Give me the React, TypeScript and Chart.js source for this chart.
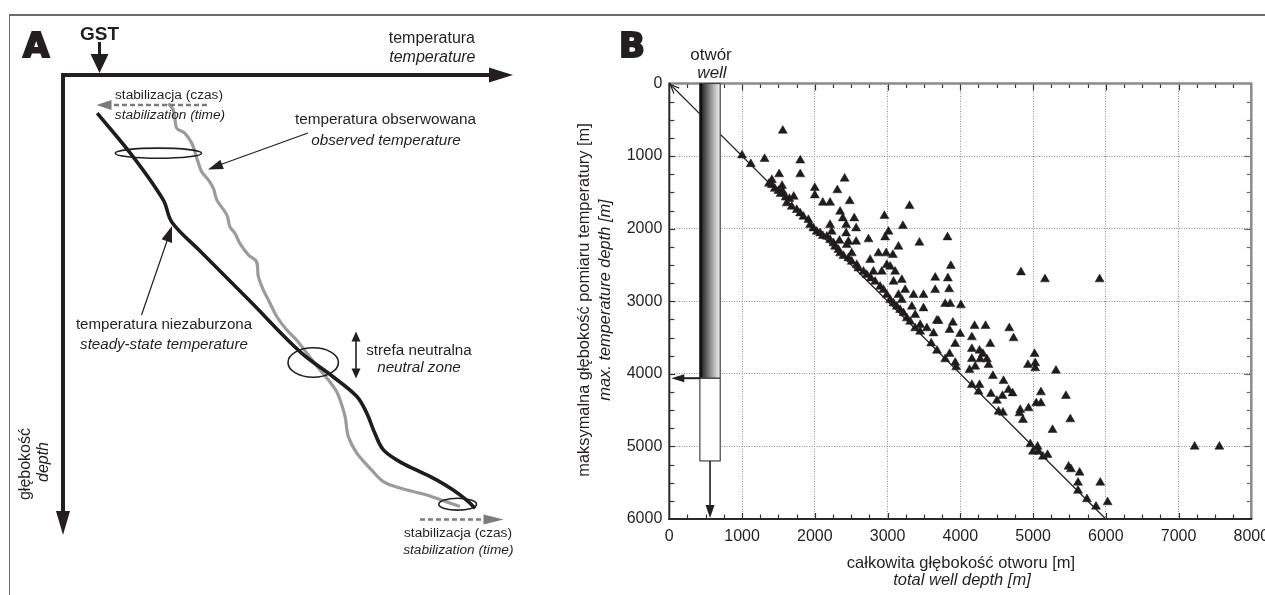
import React, { useEffect, useRef } from 'react';
import { Chart, registerables } from 'chart.js';
Chart.register(...registerables);

// ---------- Panel A (schematic) data: temperature / depth in arbitrary units 0..100 ----------
const steadyT = [7.6, 15.6, 22.3, 24.2, 30.4, 41.6, 52.7, 60.0, 65.3, 67.5, 69.3, 71.2, 74.9, 78.6, 83.0, 86.7, 89.7, 91.6];
const steadyD = [8.3, 17.8, 27.2, 32.0, 38.2, 49.2, 60.2, 65.6, 69.9, 73.5, 77.9, 81.5, 84.1, 85.9, 88.0, 90.2, 92.4, 94.2];
const observedT = [23.4, 24.5, 24.9, 25.3, 27.1, 28.6, 29.3, 30.1, 30.8, 32.3, 33.4, 34.2, 36.4, 37.1, 38.2, 39.3, 41.2, 43.0, 43.4, 44.5, 46.0, 47.5, 49.7, 51.9, 54.2, 57.1, 59.3, 60.8, 61.6, 62.7, 63.4, 65.3, 68.6, 71.2, 74.9, 80.8, 85.3, 88.2];
const observedD = [6.2, 7.6, 9.8, 11.6, 12.7, 14.8, 16.7, 19.2, 21.0, 22.8, 24.6, 27.2, 30.4, 33.0, 34.4, 36.6, 39.1, 40.6, 43.8, 46.7, 49.6, 52.5, 55.4, 57.6, 60.5, 64.1, 66.7, 68.8, 70.7, 74.3, 78.6, 82.2, 85.9, 88.4, 89.8, 91.3, 92.8, 93.8];
// ellipses: centre T, centre D, radius T, radius D
const ellipseT = [21.2, 55.6, 87.7];
const ellipseD = [17.0, 62.5, 93.3];
const ellipseRT = [9.6, 5.6, 4.2];
const ellipseRD = [1.1, 3.2, 1.3];

// ---------- Panel B (scatter) data ----------
const totalDepth = [
  1560, 1000, 1120, 1310, 1800, 1800, 1510, 1410, 1410, 1550, 1560, 1710, 2000, 2000, 2310, 2410, 2480, 2210, 2110,
  1370, 1450, 1500, 1530, 1600, 1650,
  1615, 1683, 1752, 1798, 1843, 1912, 1935, 1981, 2027, 2073, 2110, 2165, 2211, 2257, 2279, 2325, 2348, 2394, 2462, 2508,
  2577, 2600, 2669, 2715, 2770, 2829, 2898, 2944, 2990, 3036, 3082, 3127, 3173, 3219, 3265, 3311, 3379, 3448, 3600, 3680,
  2348, 2385, 2542, 2431, 2568, 2210, 2233, 2431, 2339, 2462, 2439, 2568, 2508, 2738, 2875, 2967, 3013, 2957, 3211, 3302,
  3438, 3150, 2981, 3073, 2761, 2990, 3036, 3104, 2921, 2806, 3082, 3196, 3242, 3150, 3357, 3494, 3196, 3334, 3494, 3380,
  3655, 3655, 3678, 3448, 3540, 3632,
  3824, 3870, 3829, 3847, 4834, 5164, 5915, 3792, 3861, 4008, 3700, 3898, 3852, 3998, 4196, 4347, 4673, 4732, 4159, 3930,
  4411, 3852, 4159, 4264, 4311, 3792, 3930, 4159, 4274, 4366, 4388, 3944, 4205, 4127, 5021, 4930, 5030, 5030, 5315, 4448,
  4594, 4159, 4264, 4251, 4421, 4580, 4663, 4718, 5108, 5452, 4503,
  4824, 4938, 5044, 5108, 4526, 4586, 4814, 4861, 5512, 5268, 4962, 5062, 4999, 5076, 5136, 5199, 5488, 5521, 5640, 5618,
  5618, 5924, 5741, 5865, 6025, 7221, 7561
];
const maxTempDepth = [
  650, 990, 1110, 1040, 1060, 1250, 1250, 1330, 1400, 1410, 1490, 1560, 1440, 1540, 1470, 1310, 1620, 1642, 1642,
  1380, 1450, 1480, 1520, 1570, 1590,
  1650, 1697, 1742, 1788, 1835, 1880, 1949, 1995, 2041, 2064, 2100, 2110, 2156, 2201, 2248, 2293, 2339, 2376, 2408, 2455,
  2500, 2546, 2592, 2638, 2684, 2730, 2799, 2845, 2913, 2982, 3028, 3074, 3120, 3165, 3234, 3281, 3372, 3419, 3580, 3680,
  1766, 1857, 1857, 1949, 1995, 1949, 2041, 2064, 2166, 2179, 2225, 2179, 2339, 2146, 2339, 2119, 2041, 1825, 1963, 1687,
  2193, 2248, 2339, 2362, 2431, 2500, 2523, 2592, 2592, 2592, 2730, 2707, 2845, 2913, 2913, 2913, 2982, 3074, 3097, 3189,
  2675, 2845, 3267, 3326, 3372, 3442,
  2119, 2514, 2684, 2835, 2601, 2697, 2697, 3037, 3037, 3055, 3271, 3295, 3395, 3450, 3340, 3340, 3372, 3510, 3496, 3588,
  3588, 3726, 3657, 3680, 3726, 3799, 3846, 3795, 3799, 3799, 3877, 3909, 3900, 3946, 3726, 3877, 3854, 3923, 3956, 4029,
  4098, 4153, 4153, 4245, 4277, 4304, 4222, 4268, 4254, 4304, 4370,
  4497, 4474, 4405, 4405, 4520, 4534, 4543, 4635, 4626, 4773, 4970, 5003, 5072, 5072, 5140, 5117, 5278, 5314, 5361, 5499,
  5609, 5499, 5727, 5829, 5769, 5003, 5003
];
const diagonalX = [0, 6000];
const diagonalY = [0, 6000];
const xTickValues = [0, 1000, 2000, 3000, 4000, 5000, 6000, 7000, 8000];
const yTickValues = [0, 1000, 2000, 3000, 4000, 5000, 6000];
// schematic well (in data units)
const wellLeft = 420;
const wellRight = 700;
const wellCasingDepth = 4060;
const wellBottomDepth = 5200;
const wellArrowDepth = 6000;

const FONT = '"Liberation Sans", Arial, Helvetica, sans-serif';

function arrowHead(ctx: CanvasRenderingContext2D, tx: number, ty: number, fx: number, fy: number, len: number, half: number, color: string) {
  const a = Math.atan2(ty - fy, tx - fx);
  const bx = tx - Math.cos(a) * len;
  const by = ty - Math.sin(a) * len;
  ctx.save();
  ctx.fillStyle = color;
  ctx.beginPath();
  ctx.moveTo(tx, ty);
  ctx.lineTo(bx + Math.sin(a) * half, by - Math.cos(a) * half);
  ctx.lineTo(bx - Math.sin(a) * half, by + Math.cos(a) * half);
  ctx.closePath();
  ctx.fill();
  ctx.restore();
}

function line(ctx: CanvasRenderingContext2D, x1: number, y1: number, x2: number, y2: number, w: number, color: string, dash: number[] = []) {
  ctx.save();
  ctx.strokeStyle = color;
  ctx.lineWidth = w;
  ctx.setLineDash(dash);
  ctx.beginPath();
  ctx.moveTo(x1, y1);
  ctx.lineTo(x2, y2);
  ctx.stroke();
  ctx.restore();
}

function text(ctx: CanvasRenderingContext2D, s: string, x: number, y: number, font: string, align: CanvasTextAlign = 'center', color = '#231f20') {
  ctx.save();
  ctx.font = font;
  ctx.fillStyle = color;
  ctx.textAlign = align;
  ctx.textBaseline = 'alphabetic';
  ctx.fillText(s, x, y);
  ctx.restore();
}

function rotText(ctx: CanvasRenderingContext2D, s: string, x: number, y: number, font: string, color = '#231f20') {
  ctx.save();
  ctx.translate(x, y);
  ctx.rotate(-Math.PI / 2);
  ctx.font = font;
  ctx.fillStyle = color;
  ctx.textAlign = 'center';
  ctx.textBaseline = 'alphabetic';
  ctx.fillText(s, 0, 0);
  ctx.restore();
}

const panelAPlugin = {
  id: 'panelA',
  beforeDatasetsDraw(chart: any) {
    const ctx: CanvasRenderingContext2D = chart.ctx;
    const { left, top, right, bottom } = chart.chartArea;
    // axes
    ctx.save();
    ctx.strokeStyle = '#231f20';
    ctx.lineWidth = 4;
    ctx.lineCap = 'butt';
    ctx.beginPath();
    ctx.moveTo(left - 2, top);
    ctx.lineTo(right - 18, top);
    ctx.moveTo(left, top - 2);
    ctx.lineTo(left, bottom - 18);
    ctx.stroke();
    ctx.restore();
    arrowHead(ctx, right, top, left, top, 24, 7.5, '#231f20');
    arrowHead(ctx, left, bottom, left, top, 24, 7, '#231f20');
  },
  afterDatasetsDraw(chart: any) {
    const ctx: CanvasRenderingContext2D = chart.ctx;
    const xs = chart.scales.x;
    const ys = chart.scales.y;
    // ellipses
    ctx.save();
    ctx.strokeStyle = '#231f20';
    ctx.lineWidth = 1.6;
    for (let i = 0; i < ellipseT.length; i++) {
      const cx = xs.getPixelForValue(ellipseT[i]);
      const cy = ys.getPixelForValue(ellipseD[i]);
      const rx = Math.abs(xs.getPixelForValue(ellipseT[i] + ellipseRT[i]) - cx);
      const ry = Math.abs(ys.getPixelForValue(ellipseD[i] + ellipseRD[i]) - cy);
      ctx.beginPath();
      ctx.ellipse(cx, cy, rx, ry, 0, 0, Math.PI * 2);
      ctx.stroke();
    }
    ctx.restore();

    // letters
    ctx.save();
    ctx.font = 'bold 34px "DejaVu Sans", sans-serif';
    ctx.fillStyle = '#231f20';
    ctx.strokeStyle = '#231f20';
    ctx.lineWidth = 2;
    ctx.textBaseline = 'alphabetic';
    ctx.fillText('A', 23, 56.5);
    ctx.strokeText('A', 23, 56.5);
    ctx.restore();
    text(ctx, 'GST', 80, 40, `bold 19px ${FONT}`, 'left');
    line(ctx, 99.5, 42, 99.5, 58, 3, '#231f20');
    arrowHead(ctx, 99.5, 73, 99.5, 42, 19, 9, '#231f20');

    // axis labels
    text(ctx, 'temperatura', 475, 43.3, `16px ${FONT}`, 'right');
    text(ctx, 'temperature', 475.5, 61.6, `italic 16px ${FONT}`, 'right');
    rotText(ctx, 'głębokość', 29.5, 464, `16px ${FONT}`);
    rotText(ctx, 'depth', 48, 462, `italic 16px ${FONT}`);

    // stabilization arrows
    line(ctx, 207, 105, 108, 105, 2.4, '#7b7b7b', [5, 3]);
    arrowHead(ctx, 96.5, 105, 207, 105, 15, 5, '#7b7b7b');
    line(ctx, 420, 519.5, 488, 519.5, 2.4, '#7b7b7b', [5, 3]);
    arrowHead(ctx, 503.5, 519.5, 420, 519.5, 20, 5, '#7b7b7b');
    text(ctx, 'stabilizacja (czas)', 169, 99, `13.7px ${FONT}`);
    text(ctx, 'stabilization (time)', 170, 119, `italic 13.7px ${FONT}`);
    text(ctx, 'stabilizacja (czas)', 458, 537, `13.7px ${FONT}`);
    text(ctx, 'stabilization (time)', 458.3, 553.5, `italic 13.7px ${FONT}`);

    // observed annotation
    line(ctx, 308, 133, 218, 165.5, 1.2, '#231f20');
    arrowHead(ctx, 208, 169.5, 308, 133, 15, 5, '#231f20');
    text(ctx, 'temperatura obserwowana', 385.5, 123.5, `15.3px ${FONT}`);
    text(ctx, 'observed temperature', 386, 144.7, `italic 15.3px ${FONT}`);

    // steady annotation
    line(ctx, 141.5, 315, 167, 241, 1.2, '#231f20');
    arrowHead(ctx, 172, 226, 141.5, 315, 16, 5.5, '#231f20');
    text(ctx, 'temperatura niezaburzona', 164, 328.5, `15.1px ${FONT}`);
    text(ctx, 'steady-state temperature', 164, 348.5, `italic 15.1px ${FONT}`);

    // neutral zone
    line(ctx, 356, 340, 356, 370, 1.6, '#231f20');
    arrowHead(ctx, 356, 331.5, 356, 378.5, 10, 4.5, '#231f20');
    arrowHead(ctx, 356, 378.5, 356, 331.5, 10, 4.5, '#231f20');
    text(ctx, 'strefa neutralna', 419, 355, `15.2px ${FONT}`);
    text(ctx, 'neutral zone', 419, 371.5, `italic 15.2px ${FONT}`);
  }
};

const panelBPlugin = {
  id: 'panelB',
  afterDatasetsDraw(chart: any) {
    const ctx: CanvasRenderingContext2D = chart.ctx;
    const xs = chart.scales.x;
    const ys = chart.scales.y;
    const { left, top, right, bottom } = chart.chartArea;

    // minor ticks (inside)
    ctx.save();
    for (let v = 250; v < 8000; v += 250) {
      const px = Math.round(xs.getPixelForValue(v)) + 0.5;
      const major = v % 1000 === 0;
      line(ctx, px, top, px, top + (major ? 7 : 4.5), 1.2, '#333');
      line(ctx, px, bottom, px, bottom - (major ? 6 : 4.5), 1.2, '#333');
    }
    for (let v = 250; v < 6000; v += 250) {
      const py = Math.round(ys.getPixelForValue(v)) + 0.5;
      const major = v % 1000 === 0;
      line(ctx, left, py, left + (major ? 6 : 5), py, 1.2, '#333');
      line(ctx, right, py, right - (major ? 7 : 4.5), py, 1.2, '#666');
    }
    ctx.restore();

    // frame
    line(ctx, left, top, right + 1, top, 2.5, '#8a8a8a');
    line(ctx, right, top, right, bottom, 2.5, '#8a8a8a');
    line(ctx, left, top - 1, left, bottom + 1, 2, '#2a2a2a');
    line(ctx, left - 1, bottom, right + 1, bottom, 2, '#2a2a2a');

    // well column
    const wx0 = xs.getPixelForValue(wellLeft);
    const wx1 = xs.getPixelForValue(wellRight);
    const wy0 = ys.getPixelForValue(0);
    const wy1 = ys.getPixelForValue(wellCasingDepth);
    const wy2 = ys.getPixelForValue(wellBottomDepth);
    const wy3 = ys.getPixelForValue(wellArrowDepth);
    const g = ctx.createLinearGradient(wx0, 0, wx1, 0);
    g.addColorStop(0, '#141414');
    g.addColorStop(0.12, '#2e2e2e');
    g.addColorStop(0.45, '#7d7d7d');
    g.addColorStop(0.8, '#cfcfcf');
    g.addColorStop(1, '#ececec');
    ctx.save();
    ctx.fillStyle = g;
    ctx.fillRect(wx0, wy0, wx1 - wx0, wy1 - wy0);
    ctx.fillStyle = '#ffffff';
    ctx.fillRect(wx0, wy1, wx1 - wx0, wy2 - wy1);
    ctx.strokeStyle = '#444';
    ctx.lineWidth = 1.2;
    ctx.strokeRect(wx0, wy0, wx1 - wx0, wy2 - wy0);
    ctx.restore();
    line(ctx, wx0 + 1, wy0, wx0 + 1, wy1, 2.5, '#111');
    line(ctx, wx0, wy1, wx1, wy1, 1.5, '#444');
    // arrows of well
    const wxc = (wx0 + wx1) / 2;
    line(ctx, wxc, wy2, wxc, wy3 - 10, 1.6, '#231f20');
    arrowHead(ctx, wxc, wy3 - 1, wxc, wy2, 13, 4.5, '#231f20');
    line(ctx, wx0, wy1, left + 10, wy1, 2, '#231f20');
    arrowHead(ctx, left + 2, wy1, wx0, wy1, 13, 4, '#231f20');
    // open arrow head at origin of the diagonal
    const ox = xs.getPixelForValue(0);
    const oy = ys.getPixelForValue(0);
    const a = Math.PI / 4;
    ctx.save();
    ctx.strokeStyle = '#231f20';
    ctx.lineWidth = 1.2;
    ctx.beginPath();
    ctx.moveTo(ox + Math.cos(a - 0.35) * 11, oy + Math.sin(a - 0.35) * 11);
    ctx.lineTo(ox + 1, oy + 1);
    ctx.lineTo(ox + Math.cos(a + 0.35) * 11, oy + Math.sin(a + 0.35) * 11);
    ctx.stroke();
    ctx.restore();
  },
  afterDraw(chart: any) {
    const ctx: CanvasRenderingContext2D = chart.ctx;
    ctx.save();
    ctx.font = 'bold 34px "DejaVu Sans", sans-serif';
    ctx.fillStyle = '#231f20';
    ctx.strokeStyle = '#231f20';
    ctx.lineWidth = 2;
    ctx.textBaseline = 'alphabetic';
    ctx.fillText('B', 59, 56.5);
    ctx.strokeText('B', 59, 56.5);
    ctx.restore();
    text(ctx, 'otwór', 151, 60, `17px ${FONT}`);
    text(ctx, 'well', 152, 78, `italic 17px ${FONT}`);
    rotText(ctx, 'maksymalna głębokość pomiaru temperatury [m]', 29, 300, `16.4px ${FONT}`);
    rotText(ctx, 'max. temperature depth [m]', 49.5, 300, `italic 16.4px ${FONT}`);
    text(ctx, 'całkowita głębokość otworu [m]', 401, 568, `16.5px ${FONT}`);
    text(ctx, 'total well depth [m]', 402, 585, `italic 16.5px ${FONT}`);
  }
};

export default function App() {
  const aRef = useRef<HTMLCanvasElement>(null);
  const bRef = useRef<HTMLCanvasElement>(null);

  useEffect(() => {
    const chartA = new Chart(aRef.current as HTMLCanvasElement, {
      type: 'scatter',
      data: {
        datasets: [
          {
            data: steadyT.map((t, i) => ({ x: t, y: steadyD[i] })),
            showLine: true,
            borderColor: '#1f1c1d',
            borderWidth: 3.6,
            pointRadius: 0,
            tension: 0.35,
          },
          {
            data: observedT.map((t, i) => ({ x: t, y: observedD[i] })),
            showLine: true,
            borderColor: '#9b9b9b',
            borderWidth: 3.2,
            pointRadius: 0,
            tension: 0.35,
          },
        ],
      },
      options: {
        animation: false,
        responsive: false,
        layout: { padding: { left: 63, top: 75, right: 47, bottom: 60 } },
        plugins: { legend: { display: false }, tooltip: { enabled: false } },
        scales: {
          x: { type: 'linear', min: 0, max: 100, display: false },
          y: { type: 'linear', min: 0, max: 100, reverse: true, display: false },
        },
      },
      plugins: [panelAPlugin],
    } as any);

    const tickFont = { family: FONT, size: 16 };
    const chartB = new Chart(bRef.current as HTMLCanvasElement, {
      type: 'scatter',
      data: {
        datasets: [
          {
            data: totalDepth.map((x, i) => ({ x, y: maxTempDepth[i] })),
            pointStyle: 'triangle',
            pointRadius: 5.2,
            backgroundColor: '#1f1c1d',
            borderColor: '#1f1c1d',
            borderWidth: 0.5,
          },
          {
            data: diagonalX.map((x, i) => ({ x, y: diagonalY[i] })),
            showLine: true,
            borderColor: '#231f20',
            borderWidth: 1.3,
            pointRadius: 0,
          },
        ],
      },
      options: {
        animation: false,
        responsive: false,
        layout: { padding: { left: 0, top: 83.5, right: 38.7, bottom: 0 } },
        plugins: { legend: { display: false }, tooltip: { enabled: false } },
        scales: {
          x: {
            type: 'linear',
            min: 0,
            max: 8000,
            afterBuildTicks: (s: any) => { s.ticks = xTickValues.map((v) => ({ value: v })); },
            ticks: { font: tickFont, color: '#231f20', padding: 8, maxRotation: 0, autoSkip: false, callback: (v: any) => String(v) },
            grid: { color: '#8c8c8c', lineWidth: 1, drawTicks: false },
            border: { display: false, dash: [1, 1.5] },
            afterFit: (s: any) => { s.height = 76; },
          },
          y: {
            type: 'linear',
            min: 0,
            max: 6000,
            reverse: true,
            afterBuildTicks: (s: any) => { s.ticks = yTickValues.map((v) => ({ value: v })); },
            ticks: { font: tickFont, color: '#231f20', padding: 7, autoSkip: false, callback: (v: any) => String(v) },
            grid: { color: '#8c8c8c', lineWidth: 1, drawTicks: false },
            border: { display: false, dash: [1, 1.5] },
            afterFit: (s: any) => { s.width = 109.3; },
          },
        },
      },
      plugins: [panelBPlugin],
    } as any);

    return () => {
      chartA.destroy();
      chartB.destroy();
    };
  }, []);

  return (
    <div style={{ position: 'fixed', left: 0, top: 0, width: 1265, height: 595, overflow: 'hidden', background: '#ffffff' }}>
      <canvas ref={aRef} width={560} height={595} style={{ position: 'absolute', left: 0, top: 0 }} />
      <canvas ref={bRef} width={730} height={595} style={{ position: 'absolute', left: 560, top: 0 }} />
      <div
        style={{
          position: 'absolute',
          left: 9,
          top: 14,
          right: -2,
          bottom: -4,
          borderTop: '2px solid #6b6b6b',
          borderLeft: '1.5px solid #6b6b6b',
          pointerEvents: 'none',
        }}
      />
    </div>
  );
}
